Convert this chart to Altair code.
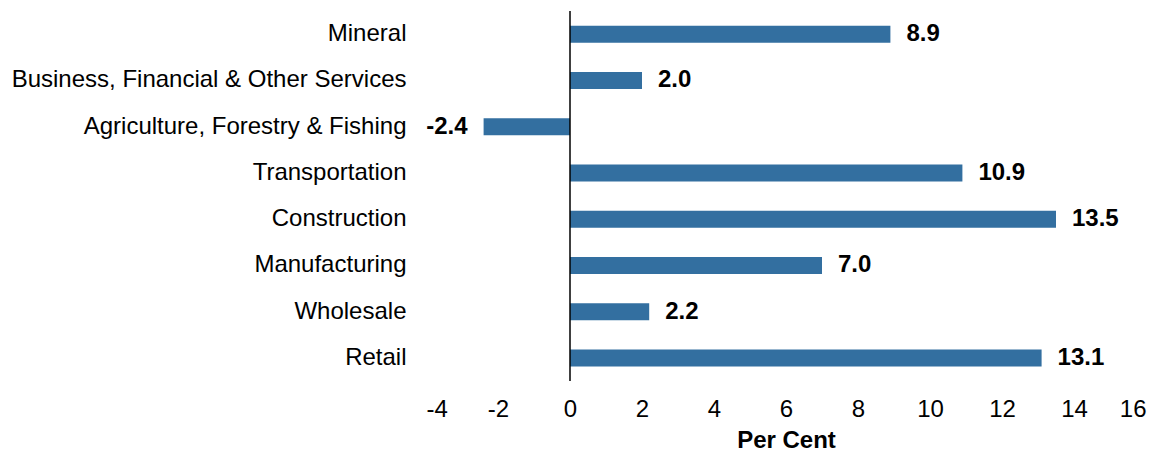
import altair as alt
import pandas as pd

categories = ["Mineral", "Business, Financial & Other Services", "Agriculture, Forestry & Fishing",
              "Transportation", "Construction", "Manufacturing", "Wholesale", "Retail"]
values = [8.9, 2.0, -2.4, 10.9, 13.5, 7.0, 2.2, 13.1]
x_ticks = [-4, -2, 0, 2, 4, 6, 8, 10, 12, 14, 16]

df = pd.DataFrame({"category": categories, "value": values})
df["label"] = [f"{v:.1f}" for v in values]

FONT = "Liberation Sans"
BLUE = "#336fa0"
FS = 24

y_enc = alt.Y("category:N", sort=categories, title=None,
              axis=alt.Axis(domain=False, ticks=False, labelFontSize=FS, labelFont=FONT,
                            labelColor="#000", labelPadding=20, labelLimit=600))
x_scale = alt.Scale(domain=[-4, 16], nice=False, zero=False)

base = alt.Chart(df)

bars = base.mark_bar(color=BLUE, size=17).encode(
    x=alt.X("value:Q", scale=x_scale, title="Per Cent",
            axis=alt.Axis(values=x_ticks, grid=False, domain=False, ticks=False,
                          labelExpr="'' + datum.value",
                          labelFontSize=FS, labelFont=FONT, labelColor="#000",
                          labelPadding=16, titleFontSize=FS, titleFont=FONT,
                          titleFontWeight="bold", titleColor="#000", titlePadding=7)),
    y=y_enc,
)

pos_text = base.transform_filter("datum.value >= 0").mark_text(
    align="left", baseline="middle", dx=16, fontSize=FS, fontWeight="bold", font=FONT, color="#000"
).encode(x=alt.X("value:Q", scale=x_scale), y=alt.Y("category:N", sort=categories), text="label:N")

neg_text = base.transform_filter("datum.value < 0").mark_text(
    align="right", baseline="middle", dx=-16, fontSize=FS, fontWeight="bold", font=FONT, color="#000"
).encode(x=alt.X("value:Q", scale=x_scale), y=alt.Y("category:N", sort=categories), text="label:N")

zero = alt.Chart(pd.DataFrame({"z": [0]})).mark_rule(color="#000", strokeWidth=1.5).encode(
    x=alt.X("z:Q", scale=x_scale)
)

chart = alt.layer(bars, zero, pos_text, neg_text).properties(
    width=720, height=370,
    autosize=alt.AutoSizeParams(type="none"),
    padding={"left": 418, "top": 3, "right": 8, "bottom": 72},
).configure(background="white").configure_view(strokeWidth=0, stroke="transparent")

chart.save("out.html", embed_options={"renderer": "svg", "actions": False})
